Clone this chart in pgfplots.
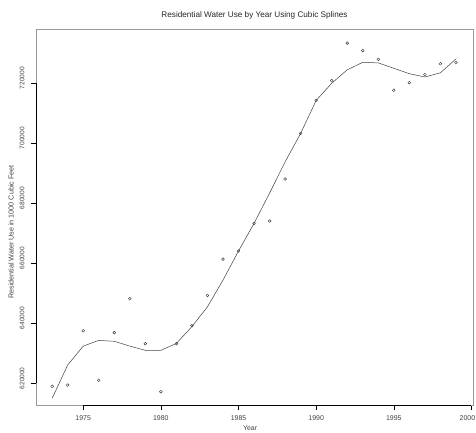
\documentclass[border=0pt]{standalone}
\usepackage{pgfplots}
\pgfplotsset{compat=1.18}
\usepackage{fontspec}
\setmainfont{Liberation Sans}
\pgfplotstableread{
year use
1973 619000
1974 619400
1975 637500
1976 621000
1977 636900
1978 648200
1979 633200
1980 617200
1981 633200
1982 639200
1983 649300
1984 661400
1985 664100
1986 673300
1987 674100
1988 688100
1989 703300
1990 714300
1991 720900
1992 733400
1993 730900
1994 728000
1995 717700
1996 720200
1997 722900
1998 726500
1999 726900
}\pointsdata
\pgfplotstableread{
year fit
1973 615000
1974 626100
1975 632400
1976 634300
1977 634000
1978 632400
1979 631000
1980 631000
1981 633300
1982 638900
1983 645500
1984 654400
1985 664100
1986 673300
1987 683400
1988 693800
1989 703300
1990 714300
1991 720000
1992 724500
1993 727000
1994 726800
1995 725000
1996 723200
1997 722100
1998 723500
1999 728100
}\splinedata
\begin{document}
\begin{tikzpicture}[x=1bp,y=1bp]
\useasboundingbox (0,0) rectangle (476,432);
\begin{axis}[
  at={(36bp,27bp)}, anchor=south west,
  scale only axis, width=437bp, height=376bp,
  xmin=1971.96, xmax=2000.1, ymin=612767, ymax=738100,
  axis line style={black!40, line width=0.6bp},
  xtick={1975,1980,1985,1990,1995,2000},
  xticklabels={1975,1980,1985,1990,1995,\hspace*{-8bp}2000},
  ytick={620000,640000,660000,680000,700000,720000},
  yticklabels={620000,640000,660000,680000,700000,720000},
  tick pos=left, tick align=outside, major tick length=5bp,
  tick style={black, line width=0.6bp},
  scaled ticks=false,
  xticklabel style={font=\fontsize{7}{8}\selectfont, text=black!75, anchor=base, yshift=-10bp},
  yticklabel style={font=\fontsize{6.6}{8}\selectfont, text=black!75, rotate=90, anchor=south, xshift=5bp, yshift=3bp},
  title={Residential Water Use by Year Using Cubic Splines},
  title style={font=\fontsize{8.2}{9}\selectfont, text=black!85, at={(axis description cs:0.5,1)}, anchor=center, yshift=8bp},
  xlabel={Year},
  xlabel style={font=\fontsize{7}{8}\selectfont, text=black!75, at={(axis description cs:0.49,0)}, anchor=center, yshift=-23bp},
  ylabel={Residential Water Use in 1000 Cubic Feet},
  ylabel style={font=\fontsize{7.2}{8}\selectfont, text=black!75, at={(axis description cs:-0.0572,0.46)}, anchor=center},
  clip=false,
]
\draw[black, line width=0.6bp] (axis cs:1975,612767) -- (axis cs:2000,612767);
\draw[black, line width=0.6bp] (axis cs:1971.96,620000) -- (axis cs:1971.96,720000);
\addplot[black!75, line width=0.5bp] table[x=year, y=fit] {\splinedata};
\addplot[only marks, mark=o, mark size=1.4bp, mark options={line width=0.4bp, black!80}] table[x=year, y=use] {\pointsdata};
\end{axis}
\end{tikzpicture}
\end{document}
